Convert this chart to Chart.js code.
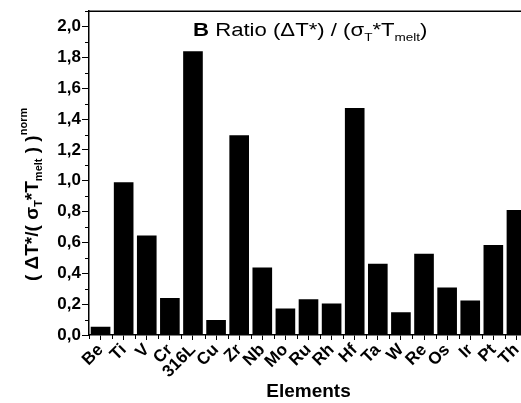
<!DOCTYPE html>
<html>
<head>
<meta charset="utf-8">
<script src="https://cdn.jsdelivr.net/npm/chart.js@4.4.1/dist/chart.umd.min.js"></script>
<style>
  html, body { margin: 0; padding: 0; background: #fff; overflow: hidden; }
  #wrap { width: 521px; height: 403px; overflow: hidden; }
</style>
</head>
<body>
<div id="wrap"><canvas id="chart" width="532" height="403"></canvas></div>
<script>
const elements = ['Be', 'Ti', 'V', 'Cr', '316L', 'Cu', 'Zr', 'Nb', 'Mo', 'Ru',
                  'Rh', 'Hf', 'Ta', 'W', 'Re', 'Os', 'Ir', 'Pt', 'Th'];
const ratioNorm = [0.054, 0.99, 0.645, 0.24, 1.84, 0.097, 1.295, 0.437, 0.172, 0.232,
                   0.204, 1.473, 0.462, 0.148, 0.527, 0.308, 0.224, 0.583, 0.811];
const yMin = 0;
const yMax = 2.1;
const yStep = 0.1;

const FONT = 'Arial, "Liberation Sans", sans-serif';

// draws a run of text pieces (sub/superscripts) starting at x along the baseline
function drawRich(ctx, parts, x, y, sx) {
  ctx.save();
  ctx.translate(x, y);
  ctx.scale(sx || 1, 1);
  let cx = 0;
  parts.forEach(p => {
    ctx.font = p.font;
    ctx.fillText(p.text, cx, p.dy || 0);
    cx += ctx.measureText(p.text).width;
  });
  ctx.restore();
}

const decorations = {
  id: 'decorations',
  afterDraw(chart) {
    const ctx = chart.ctx;
    const area = chart.chartArea;
    const xs = chart.scales.x;
    const ys = chart.scales.y;
    ctx.save();
    ctx.strokeStyle = '#000';
    ctx.fillStyle = '#000';

    // top frame line
    ctx.lineWidth = 1.5;
    ctx.beginPath();
    ctx.moveTo(area.left, area.top);
    ctx.lineTo(chart.width, area.top);
    ctx.stroke();

    // minor y ticks
    ctx.lineWidth = 1;
    ys.ticks.forEach((t, i) => {
      if (i % 2 === 1) {
        const py = Math.round(ys.getPixelForValue(t.value)) + 0.5;
        ctx.beginPath();
        ctx.moveTo(area.left - 4, py);
        ctx.lineTo(area.left, py);
        ctx.stroke();
      }
    });

    // x ticks at category boundaries
    for (let i = 0; i <= elements.length; i++) {
      const px = Math.round(xs.getPixelForValue(i - 0.5)) + 0.5;
      ctx.beginPath();
      ctx.moveTo(px, area.bottom);
      ctx.lineTo(px, area.bottom + 4);
      ctx.stroke();
    }

    ctx.textBaseline = 'alphabetic';
    ctx.textAlign = 'left';

    // in-plot title
    drawRich(ctx, [
      { text: 'B', font: 'bold 18px ' + FONT },
      { text: ' Ratio (\u0394T*) / (\u03c3', font: '18px ' + FONT },
      { text: 'T', font: '11px ' + FONT, dy: 5 },
      { text: '*T', font: '18px ' + FONT },
      { text: 'melt', font: '11px ' + FONT, dy: 5 },
      { text: ')', font: '18px ' + FONT }
    ], 193, 36, 1.23);

    // y axis title
    ctx.save();
    ctx.translate(38, 281);
    ctx.rotate(-Math.PI / 2);
    drawRich(ctx, [
      { text: '( \u0394T*/( \u03c3', font: 'bold 19px ' + FONT },
      { text: 'T', font: 'bold 11px ' + FONT, dy: 4 },
      { text: '*T', font: 'bold 19px ' + FONT },
      { text: 'melt', font: 'bold 11px ' + FONT, dy: 4 },
      { text: ' ) )', font: 'bold 19px ' + FONT },
      { text: 'norm', font: 'bold 11px ' + FONT, dy: -11 }
    ], 0, 0, 1);
    ctx.restore();

    // x axis title
    ctx.font = 'bold 19px ' + FONT;
    ctx.textAlign = 'center';
    ctx.fillText('Elements', (area.left + area.right) / 2, 397);
    ctx.restore();
  }
};

new Chart(document.getElementById('chart'), {
  type: 'bar',
  data: {
    labels: elements,
    datasets: [{
      data: ratioNorm,
      backgroundColor: '#000',
      borderWidth: 0,
      barPercentage: 0.85,
      categoryPercentage: 1.0
    }]
  },
  options: {
    responsive: false,
    animation: false,
    devicePixelRatio: 1,
    layout: { padding: { top: 9, right: 4, left: 0, bottom: 0 } },
    plugins: { legend: { display: false }, tooltip: { enabled: false } },
    scales: {
      x: {
        type: 'category',
        offset: true,
        afterFit(scale) { scale.height = 68; },
        grid: { display: true, drawOnChartArea: false, offset: false, tickLength: 5, tickColor: '#000', tickWidth: 1 },
        border: { display: true, color: '#000', width: 1.5 },
        ticks: {
          color: '#000',
          font: { family: FONT, size: 17, weight: 'bold' },
          minRotation: 45,
          maxRotation: 45,
          autoSkip: false,
          padding: 0
        }
      },
      y: {
        min: yMin,
        max: yMax,
        afterFit(scale) { scale.width = 89; },
        grid: {
          display: true,
          drawOnChartArea: false,
          tickLength: 7,
          tickWidth: 1,
          tickColor: c => (c.index % 2 === 0 ? '#000' : 'rgba(0,0,0,0)')
        },
        border: { display: true, color: '#000', width: 1.5 },
        ticks: {
          stepSize: yStep,
          autoSkip: false,
          color: '#000',
          padding: 1,
          font: { family: FONT, size: 17, weight: 'bold' },
          callback: (v, i) => (i % 2 === 0 ? v.toFixed(1).replace('.', ',') : '')
        }
      }
    }
  },
  plugins: [decorations]
});
</script>
</body>
</html>
